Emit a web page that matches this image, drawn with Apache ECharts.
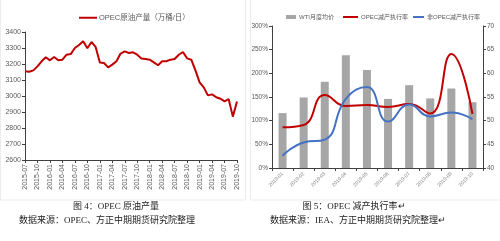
<!DOCTYPE html>
<html><head><meta charset="utf-8">
<script src="https://cdn.jsdelivr.net/npm/echarts@6/dist/echarts.min.js"></script>
<style>html,body{margin:0;padding:0;background:#fff}#c{width:500px;height:241px}</style>
</head><body><div id="c"></div>
<script>
var months = ["2015-07","2015-08","2015-09","2015-10","2015-11","2015-12",
"2016-01","2016-02","2016-03","2016-04","2016-05","2016-06","2016-07","2016-08","2016-09","2016-10","2016-11","2016-12",
"2017-01","2017-02","2017-03","2017-04","2017-05","2017-06","2017-07","2017-08","2017-09","2017-10","2017-11","2017-12",
"2018-01","2018-02","2018-03","2018-04","2018-05","2018-06","2018-07","2018-08","2018-09","2018-10","2018-11","2018-12",
"2019-01","2019-02","2019-03","2019-04","2019-05","2019-06","2019-07","2019-08","2019-09","2019-10"];
var opecOutput = [3154,3152,3160,3185,3217,3242,3223,3244,3223,3227,3258,3262,3300,3319,3342,3298,3338,3306,
3210,3206,3179,3196,3217,3265,3279,3269,3273,3258,3235,3231,3227,3210,3192,3217,3217,3227,3231,3258,3275,3235,3227,
3160,3085,3054,3004,3010,2992,2983,2967,2980,2871,2965];
var cutMonths = ["2019-01","2019-02","2019-03","2019-04","2019-05","2019-06","2019-07","2019-08","2019-09","2019-10"];
var wtiPrice = [51.6,54.9,58.2,63.8,60.7,54.6,57.5,54.7,56.8,53.9];
var opecRate = [86,91,154,131,133,129,135,115,241,114];
var nonOpecRate = [26,54,60,146,171,98,134,109,117,103];

var serif = "'Liberation Serif','Noto Sans CJK SC'";
var sans = "'Liberation Sans','Noto Sans CJK SC'";
var axisCol = '#404040', lblCol = '#595959';
var lgText = {fontSize:6,color:'#595959',padding:[0,0,0,-2]};

var chart = echarts.init(document.getElementById('c'), null, {renderer:'canvas'});
chart.setOption({
  animation:false,
  textStyle:{fontFamily:sans},
  legend:[
    {left:74, top:9, itemWidth:18, itemHeight:2, itemGap:6, icon:'rect',
     data:['OPEC原油产量（万桶/日）'], textStyle:{fontSize:7.5,color:'#595959',padding:[0,0,0,-3]}},
    {left:281, top:9, itemWidth:10, itemHeight:4, icon:'rect', data:['WTI月度均价'], textStyle:lgText},
    {left:338, top:9, itemWidth:15, itemHeight:2, icon:'rect', data:['OPEC减产执行率'], textStyle:lgText},
    {left:408, top:9, itemWidth:11, itemHeight:2, icon:'rect', data:['非OPEC减产执行率'], textStyle:lgText}
  ],
  grid:[
    {left:25, top:32, width:212, height:128},
    {left:272, top:26, width:211, height:142}
  ],
  xAxis:[
    {gridIndex:0, type:'category', data:months, boundaryGap:false,
     axisLine:{lineStyle:{color:axisCol}}, axisTick:{interval:2, length:3, lineStyle:{color:axisCol}},
     axisLabel:{interval:2, rotate:90, fontSize:7, color:lblCol, margin:4}},
    {gridIndex:1, type:'category', data:cutMonths, boundaryGap:true,
     axisLine:{lineStyle:{color:axisCol}}, axisTick:{show:true, length:3, lineStyle:{color:axisCol}},
     axisLabel:{rotate:45, fontSize:5, color:'#7f7f7f', margin:5}}
  ],
  yAxis:[
    {gridIndex:0, type:'value', min:2600, max:3400, interval:100,
     axisLine:{show:true,lineStyle:{color:axisCol}}, axisTick:{show:true,length:3,lineStyle:{color:axisCol}},
     splitLine:{show:false}, axisLabel:{fontSize:7, color:lblCol, margin:4, formatter:function(v){return String(v);}}},
    {gridIndex:1, type:'value', min:0, max:300, interval:50, position:'left',
     axisLine:{show:true,lineStyle:{color:axisCol}}, axisTick:{show:true,length:3,lineStyle:{color:axisCol}},
     splitLine:{show:false}, axisLabel:{fontSize:6.5, color:lblCol, margin:4, formatter:'{value}%'}},
    {gridIndex:1, type:'value', min:40, max:70, interval:5, position:'right',
     axisLine:{show:true,lineStyle:{color:axisCol}}, axisTick:{show:true,length:3,lineStyle:{color:axisCol}},
     splitLine:{show:false}, axisLabel:{fontSize:6.5, color:lblCol, margin:4}}
  ],
  series:[
    {name:'OPEC原油产量（万桶/日）', type:'line', xAxisIndex:0, yAxisIndex:0, data:opecOutput,
     showSymbol:false, lineStyle:{color:'#c00000', width:2}, itemStyle:{color:'#c00000'}},
    {name:'WTI月度均价', type:'bar', xAxisIndex:1, yAxisIndex:2, data:wtiPrice, barWidth:8,
     itemStyle:{color:'#a6a6a6'}},
    {name:'OPEC减产执行率', type:'line', xAxisIndex:1, yAxisIndex:1, data:opecRate, smooth:true,
     showSymbol:false, lineStyle:{color:'#c00000', width:2}, itemStyle:{color:'#c00000'}},
    {name:'非OPEC减产执行率', type:'line', xAxisIndex:1, yAxisIndex:1, data:nonOpecRate, smooth:true,
     showSymbol:false, lineStyle:{color:'#4472c4', width:2}, itemStyle:{color:'#4472c4'}}
  ],
  graphic:[
    {type:'rect', shape:{x:0.5,y:-1,width:245,height:201}, style:{fill:'none',stroke:'#ececec',lineWidth:1}, silent:true},
    {type:'rect', shape:{x:250.5,y:-1,width:251,height:201}, style:{fill:'none',stroke:'#ececec',lineWidth:1}, silent:true},
    {type:'text', x:116, y:207, style:{text:'图 4：OPEC 原油产量', font:'9px '+serif, fill:'#222', align:'center', verticalAlign:'middle'}},
    {type:'text', x:107, y:221, style:{text:'数据来源：OPEC、方正中期期货研究院整理', font:'9px '+serif, fill:'#222', align:'center', verticalAlign:'middle'}},
    {type:'text', x:354, y:207, style:{text:'图 5：OPEC 减产执行率↵', font:'9px '+serif, fill:'#222', align:'center', verticalAlign:'middle'}},
    {type:'text', x:358, y:221, style:{text:'数据来源：IEA、方正中期期货研究院整理↵', font:'9px '+serif, fill:'#222', align:'center', verticalAlign:'middle'}}
  ]
});
</script></body></html>
